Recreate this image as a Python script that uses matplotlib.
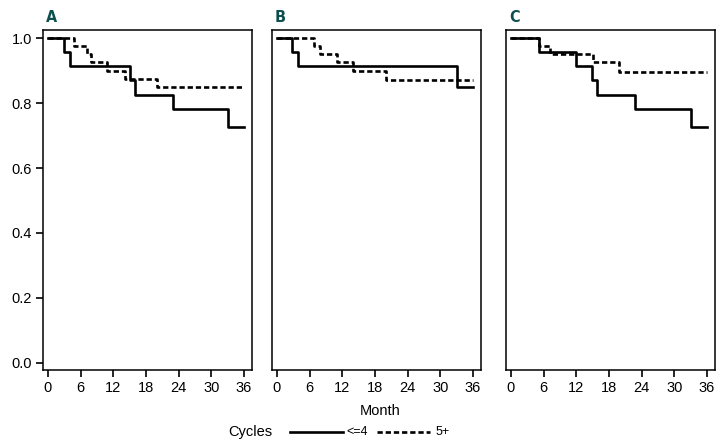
import numpy as np
import matplotlib
matplotlib.use("Agg")
import matplotlib.pyplot as plt
from matplotlib.lines import Line2D

plt.rcParams["font.family"] = ["Liberation Sans", "DejaVu Sans"]

# step curves: (month of change, survival after change)
A_le4_t = [0, 2.9, 4.0, 15.0, 16.0, 23.0, 33.1, 36]
A_le4_s = [1.0, 0.957, 0.913, 0.870, 0.826, 0.783, 0.727, 0.727]
A_5p_t = [0, 4.8, 7.2, 8.0, 10.9, 14.1, 20.1, 36]
A_5p_s = [1.0, 0.976, 0.950, 0.925, 0.900, 0.875, 0.850, 0.850]

B_le4_t = [0, 2.8, 3.9, 33.0, 36]
B_le4_s = [1.0, 0.957, 0.913, 0.848, 0.848]
B_5p_t = [0, 6.8, 7.9, 11.0, 14.0, 20.0, 36]
B_5p_s = [1.0, 0.976, 0.950, 0.925, 0.900, 0.872, 0.872]

C_le4_t = [0, 5.1, 12.0, 14.9, 15.8, 22.8, 33.0, 36]
C_le4_s = [1.0, 0.957, 0.913, 0.870, 0.826, 0.783, 0.727, 0.727]
C_5p_t = [0, 5.1, 7.1, 15.0, 19.9, 36]
C_5p_s = [1.0, 0.976, 0.952, 0.925, 0.897, 0.897]

panels = ["A", "B", "C"]
curves = {
    "A": ((A_le4_t, A_le4_s), (A_5p_t, A_5p_s)),
    "B": ((B_le4_t, B_le4_s), (B_5p_t, B_5p_s)),
    "C": ((C_le4_t, C_le4_s), (C_5p_t, C_5p_s)),
}
xticks = [0, 6, 12, 18, 24, 30, 36]
yticks = [0.0, 0.2, 0.4, 0.6, 0.8, 1.0]

W, H = 723, 444
fig = plt.figure(figsize=(W / 100, H / 100), dpi=100)
lefts = [43, 272, 506]
DASH = (0, (2.0, 1.1))
LW = 1.9

for p, lx in zip(panels, lefts):
    ax = fig.add_axes([lx / W, (H - 370) / H, 209 / W, 340 / H])
    (t1, s1), (t2, s2) = curves[p]
    ax.step(t1, s1, where="post", color="black", lw=LW)
    ax.step(t2, s2, where="post", color="black", lw=LW, ls=DASH)
    ax.set_xlim(-0.9, 37.5)
    ax.set_ylim(-0.022, 1.025)
    ax.set_xticks(xticks)
    ax.set_yticks(yticks)
    if p == "A":
        ax.set_yticklabels([f"{v:.1f}" for v in yticks])
    else:
        ax.tick_params(axis="y", left=False, labelleft=False)
    ax.tick_params(direction="out", length=5, width=1.2, labelsize=10.5, pad=3)
    for sp in ax.spines.values():
        sp.set_linewidth(1.1)
    fig.text((lx + 3) / W, (H - 17) / H, p, color="#0d4f4f", fontsize=11.5,
             fontweight="bold", va="center", ha="left", family="DejaVu Sans",
             fontstretch="condensed")

fig.text(380 / W, (H - 411) / H, "Month", fontsize=10.5, ha="center", va="center")
fig.text(250 / W, (H - 432) / H, "Cycles", fontsize=10.5, ha="center", va="center")
y_leg = (H - 432) / H
fig.add_artist(Line2D([290 / W, 343 / W], [y_leg, y_leg], color="black", lw=LW))
fig.text(346 / W, y_leg, "<=4", fontsize=9, ha="left", va="center")
fig.add_artist(Line2D([377 / W, 430 / W], [y_leg, y_leg], color="black", lw=LW, ls=DASH))
fig.text(436 / W, y_leg, "5+", fontsize=9, ha="left", va="center")

fig.savefig("out.png", dpi=100)
